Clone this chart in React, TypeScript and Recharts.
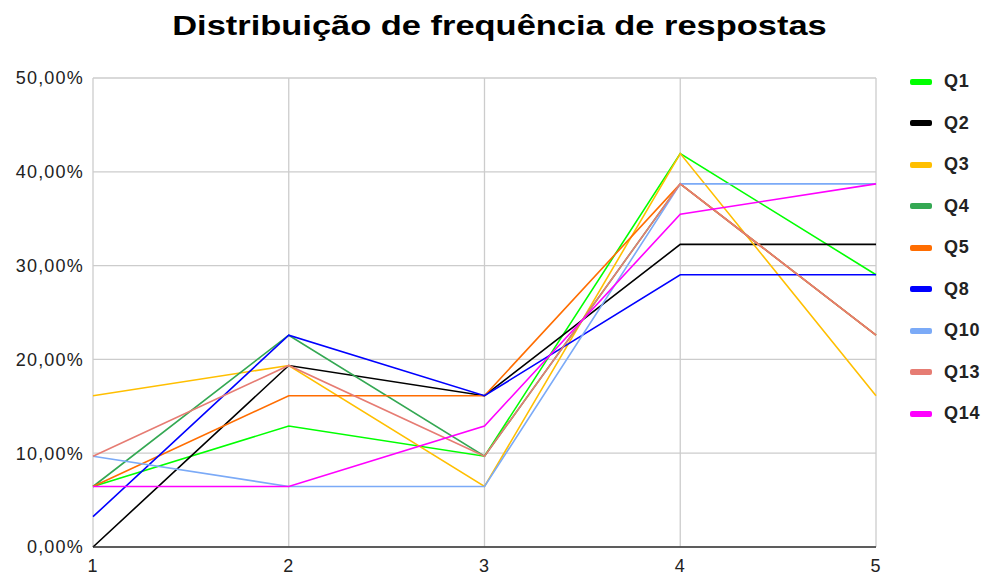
import { LineChart, Line, XAxis, YAxis, CartesianGrid, Legend } from 'recharts'

const answers = [1, 2, 3, 4, 5]
const series = ['Q1', 'Q2', 'Q3', 'Q4', 'Q5', 'Q8', 'Q10', 'Q13', 'Q14']
const colors = ['#00ff00', '#000000', '#ffbf00', '#34a853', '#ff6d01', '#0000ff', '#7baaf7', '#e67c73', '#ff00ff']

// percentages per answer 1..5
const q1 = [6.45, 12.9, 9.68, 41.94, 29.03]
const q2 = [0, 19.35, 16.13, 32.26, 32.26]
const q3 = [16.13, 19.35, 6.45, 41.94, 16.13]
const q4 = [6.45, 22.58, 9.68, 38.71, 22.58]
const q5 = [6.45, 16.13, 16.13, 38.71, 22.58]
const q8 = [3.23, 22.58, 16.13, 29.03, 29.03]
const q10 = [9.68, 6.45, 6.45, 38.71, 38.71]
const q13 = [9.68, 19.35, 9.68, 38.71, 22.58]
const q14 = [6.45, 6.45, 12.9, 35.48, 38.71]

const yTicks = [0, 10, 20, 30, 40, 50]

const allValues = [q1, q2, q3, q4, q5, q8, q10, q13, q14]
const data = answers.map((a, i) => {
  const row: Record<string, number> = { x: a }
  series.forEach((s, j) => {
    row[s] = allValues[j][i]
  })
  return row
})

const font = 'Liberation Sans, Arial, sans-serif'
const fmt = (v: number) => v.toFixed(2).replace('.', ',') + '%'

const LegendList = () => (
  <div>
    {series.map((s, i) => (
      <div key={s} style={{ display: 'flex', alignItems: 'center', height: 41.5 }}>
        <div style={{ width: 22, height: 6, borderRadius: 2, background: colors[i], marginRight: 12 }} />
        <span style={{ fontFamily: font, fontWeight: 'bold', fontSize: 18, letterSpacing: 0.8, color: '#222' }}>{s}</span>
      </div>
    ))}
  </div>
)

export default function App() {
  return (
    <div style={{ position: 'absolute', left: 0, top: 0, width: 989, height: 580, background: '#fff' }}>
      <div
        style={{
          position: 'absolute',
          left: 0,
          top: 10,
          width: 999,
          textAlign: 'center',
          fontFamily: font,
          fontWeight: 'bold',
          fontSize: 28,
          color: '#000',
          transform: 'scaleX(1.23)',
        }}
      >
        Distribuição de frequência de respostas
      </div>
      <LineChart width={989} height={580} data={data} margin={{ top: 78, right: 34, bottom: 0, left: 0 }}>
        <CartesianGrid stroke="#cccccc" strokeWidth={1.3} />
        <XAxis
          dataKey="x"
          type="number"
          domain={[1, 5]}
          ticks={answers}
          height={33}
          tickSize={0}
          tickMargin={12}
          axisLine={{ stroke: '#333', strokeWidth: 1.5 }}
          tick={{ fill: '#222', fontSize: 18, letterSpacing: 1.2, fontFamily: font }}
        />
        <YAxis
          type="number"
          domain={[0, 50]}
          ticks={yTicks}
          width={93}
          tickSize={0}
          tickMargin={9}
          axisLine={false}
          tickFormatter={fmt}
          tick={{ fill: '#222', fontSize: 18, letterSpacing: 1.2, fontFamily: font }}
        />
        <Legend
          layout="vertical"
          align="right"
          verticalAlign="top"
          content={<LegendList />}
          wrapperStyle={{ left: 910, top: 61, width: 79 }}
        />
        {series.map((s, i) => (
          <Line
            key={s}
            dataKey={s}
            stroke={colors[i]}
            strokeWidth={1.6}
            dot={false}
            activeDot={false}
            isAnimationActive={false}
            type="linear"
          />
        ))}
      </LineChart>
    </div>
  )
}
